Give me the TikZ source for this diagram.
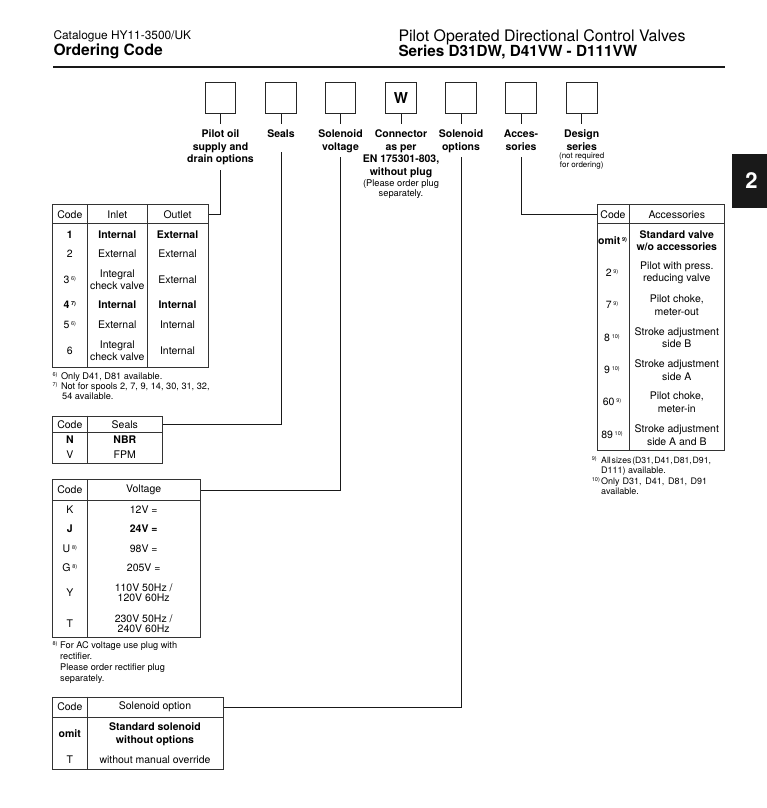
\documentclass[tikz,border=0pt]{standalone}
\usepackage{fontspec}
\setmainfont{TeX Gyre Heros}
\newcommand\fmk[1]{\raisebox{2.8pt}{\fontsize{5.5}{6}\selectfont #1)}}
\newcommand\ncell[2]{#1\,\fmk{#2}}
\begin{document}
\begin{tikzpicture}[x=1pt,y=-1pt,
  codebox/.style={draw=black!85, line width=1pt, minimum width=30.7pt, minimum height=31pt, inner sep=0pt},
  lab/.style={font=\fontsize{10.5}{12.5}\selectfont\bfseries, align=center, inner sep=0pt, outer xsep=0pt, outer ysep=6pt, anchor=north},
  smalltxt/.style={font=\fontsize{9.3}{10.3}\selectfont, align=center, inner sep=0pt},
  tinytxt/.style={font=\fontsize{8}{9}\selectfont, align=center, inner sep=0pt},
  tbl/.style={draw=black!80, line width=1.1pt, inner sep=0pt, anchor=north west},
  tline/.style={draw=black!80, line width=1.1pt},
  conn/.style={draw=black!90, line width=0.9pt},
  cell/.style={font=\fontsize{10.5}{12}\selectfont, align=center, inner sep=0pt},
  tcell/.style={font=\fontsize{10.5}{10.3}\selectfont, align=center, inner sep=0pt},
  acell/.style={font=\fontsize{10.5}{12.7}\selectfont, align=center, inner sep=0pt},
  note/.style={font=\fontsize{9.2}{11}\selectfont, inner sep=0pt, anchor=base west},
  hd/.style={inner sep=0pt, anchor=base west}]
\fill[white] (0,0) rectangle (767,808);
\useasboundingbox (0,0) rectangle (767,808);

% ---------- header ----------
\node[hd, font=\fontsize{11.9}{13}\selectfont] (cat) at (53.3,39.3) {Catalogue HY11-3500/UK};
\node[hd, font=\fontsize{15.6}{17}\selectfont\bfseries] (oc) at (53.3,55.7) {Ordering Code};
\node[hd, font=\fontsize{15.9}{17}\selectfont] (ptitle) at (398.3,41.7) {Pilot Operated Directional Control Valves};
\node[hd, font=\fontsize{15.3}{17}\selectfont\bfseries] (stitle) at (398.3,56.7) {Series D31DW, D41VW - D111VW};
\draw[line width=2.2pt, black!90] (53,67) -- (725,67);

% ---------- tab ----------
\node[fill=black!90, minimum width=35pt, minimum height=54pt, inner sep=0pt, anchor=north west] (tab) at (732,154) {};
\node[text=white, font=\fontsize{22}{24}\selectfont\bfseries, inner sep=0pt] (tabn) at (751.5,181) {2};

% ---------- code boxes ----------
\node[codebox] (b1) at (220.5,98) {};
\node[codebox] (b2) at (281,98) {};
\node[codebox] (b3) at (340.5,98) {};
\node[codebox, font=\fontsize{15}{16}\selectfont\bfseries] (b4) at (401,98) {W};
\node[codebox] (b5) at (461,98) {};
\node[codebox] (b6) at (521,98) {};
\node[codebox] (b7) at (581.7,98) {};

% ---------- labels ----------
\node[lab] (l1) at (220.5,124) {Pilot oil\\supply and\\drain options};
\node[lab] (l2) at (281,124) {Seals};
\node[lab] (l3) at (340.5,124) {Solenoid\\voltage};
\node[lab] (l4) at (401,124) {Connector\\as per\\EN 175301-803,\\without plug};
\node[smalltxt] (l4b) at (401,189.2) {(Please order plug\\separately.};
\node[lab] (l5) at (461,124) {Solenoid\\options};
\node[lab] (l6) at (521,124) {Acces-\\sories};
\node[lab] (l7) at (581.7,124) {Design\\series};
\node[tinytxt] (l7b) at (581.7,161.2) {(not required\\for ordering)};

\foreach \i in {1,...,7} \draw[conn] (b\i.south) -- (l\i.north);

\coordinate (s1) at (220.5,169.5);
\coordinate (s2) at (281,152);
\coordinate (s3) at (340.5,157);
\coordinate (s5) at (461,157);
\coordinate (s6) at (521,157);

% ---------- table 1: pilot oil ----------
\node[tbl, minimum width=155.4pt, minimum height=19pt] (t1h) at (52.3,204.3) {};
\node[tbl, minimum width=155.4pt, minimum height=143.4pt] (t1b) at (52.3,223.3) {};
\draw[tline] (87.3,204.3) -- (87.3,366.7);
\draw[tline] (147.3,204.3) -- (147.3,366.7);
\node[cell] (t1hc) at (69.8,214.3) {Code};
\node[cell] (t1hi) at (117.3,214.3) {Inlet};
\node[cell] (t1ho) at (177.5,214.3) {Outlet};
\node[cell] (t1c1) at (69.8,234.3) {\bfseries 1};
\node[cell] (t1i1) at (117.3,234.3) {\bfseries Internal};
\node[cell] (t1o1) at (177.5,234.3) {\bfseries External};
\node[cell] (t1c2) at (69.8,253.3) {2};
\node[cell] (t1i2) at (117.3,253.3) {External};
\node[cell] (t1o2) at (177.5,253.3) {External};
\node[cell] (t1c3) at (69.8,279.5) {\ncell{3}{6}};
\node[cell] (t1i3) at (117.3,279.8) {Integral\\check valve};
\node[cell] (t1o3) at (177.5,279.5) {External};
\node[cell] (t1c4) at (69.8,305) {\bfseries\ncell{4}{7}};
\node[cell] (t1i4) at (117.3,305) {\bfseries Internal};
\node[cell] (t1o4) at (177.5,305) {\bfseries Internal};
\node[cell] (t1c5) at (69.8,325) {\ncell{5}{6}};
\node[cell] (t1i5) at (117.3,325) {External};
\node[cell] (t1o5) at (177.5,325) {Internal};
\node[cell] (t1c6) at (69.8,350.7) {6};
\node[cell] (t1i6) at (117.3,350.7) {Integral\\check valve};
\node[cell] (t1o6) at (177.5,350.7) {Internal};
\node[note] (n6) at (52.3,379.3) {\makebox[8.5pt][l]{\fmk{6}}Only D41, D81 available.};
\node[note] (n7a) at (52.3,389.5) {\makebox[8.5pt][l]{\fmk{7}}Not for spools 2, 7, 9, 14, 30, 31, 32,};
\node[note] (n7b) at (62,399.7) {54 available.};
\draw[conn] (t1h.east) -| (s1);

% ---------- table 2: seals ----------
\node[tbl, minimum width=110pt, minimum height=16pt] (t2h) at (52.3,415.7) {};
\node[tbl, minimum width=110pt, minimum height=31pt] (t2b) at (52.3,431.7) {};
\draw[tline] (87.3,415.7) -- (87.3,462.7);
\node[cell] (t2hc) at (69.8,424.3) {Code};
\node[cell] (t2hs) at (124.8,424.3) {Seals};
\node[cell] (t2c1) at (69.8,439.5) {\bfseries N};
\node[cell] (t2s1) at (124.8,439.5) {\bfseries NBR};
\node[cell] (t2c2) at (69.8,454.5) {V};
\node[cell] (t2s2) at (124.8,454.5) {FPM};
\draw[conn] (t2h.east) -| (s2);

% ---------- table 3: voltage ----------
\node[tbl, minimum width=147.7pt, minimum height=21pt] (t3h) at (52.3,479) {};
\node[tbl, minimum width=147.7pt, minimum height=137.3pt] (t3b) at (52.3,500) {};
\draw[tline] (87.3,479) -- (87.3,637.3);
\node[cell] (t3hc) at (69.8,489.5) {Code};
\node[cell] (t3hv) at (143.7,489.5) {Voltage};
\node[cell] (t3c1) at (69.8,509.3) {K};
\node[cell] (t3v1) at (143.7,509.3) {12V =};
\node[cell] (t3c2) at (69.8,529) {\bfseries J};
\node[cell] (t3v2) at (143.7,529) {\bfseries 24V =};
\node[cell] (t3c3) at (69.8,548.7) {\ncell{U}{8}};
\node[cell] (t3v3) at (143.7,548.7) {98V =};
\node[cell] (t3c4) at (69.8,567.7) {\ncell{G}{8}};
\node[cell] (t3v4) at (143.7,567.7) {205V =};
\node[cell] (t3c5) at (69.8,592.7) {Y};
\node[tcell] (t3v5) at (143.7,592.7) {110V 50Hz /\\120V 60Hz};
\node[cell] (t3c6) at (69.8,623.5) {T};
\node[tcell] (t3v6) at (143.7,623.5) {230V 50Hz /\\240V 60Hz};
\node[note] (n8a) at (52.3,648.5) {\makebox[7.7pt][l]{\fmk{8}}For AC voltage use plug with};
\node[note] (n8b) at (60,659.2) {rectifier.};
\node[note] (n8c) at (60,670.5) {Please order rectifier plug};
\node[note] (n8d) at (60,681.5) {separately.};
\draw[conn] (t3h.east) -| (s3);

% ---------- table 4: solenoid option ----------
\node[tbl, minimum width=170.4pt, minimum height=20pt] (t4h) at (52.3,696.7) {};
\node[tbl, minimum width=170.4pt, minimum height=52.3pt] (t4b) at (52.3,716.7) {};
\draw[tline] (87.3,696.7) -- (87.3,769);
\node[cell] (t4hc) at (69.8,706.7) {Code};
\node[cell] (t4ho) at (155,706.7) {Solenoid option};
\node[cell] (t4c1) at (69.8,734) {\bfseries omit};
\node[acell, font=\fontsize{10.5}{13.3}\selectfont\bfseries] (t4o1) at (155,734.3) {Standard solenoid\\without options};
\node[cell] (t4c2) at (69.8,760) {T};
\node[cell] (t4o2) at (155,760) {without manual override};
\draw[conn] (t4h.east) -| (s5);

% ---------- table 5: accessories ----------
\node[tbl, minimum width=127.6pt, minimum height=19pt] (t5h) at (596.7,204.3) {};
\node[tbl, minimum width=127.6pt, minimum height=226.7pt] (t5b) at (596.7,223.3) {};
\draw[tline] (629.3,204.3) -- (629.3,450);
\node[cell] (t5hc) at (613,214.3) {Code};
\node[cell] (t5ha) at (676.8,214.3) {Accessories};
\node[cell] (t5c1) at (612.5,240.5) {\bfseries\ncell{omit}{9}};
\node[acell, font=\fontsize{10.5}{12.5}\selectfont\bfseries] (t5a1) at (676.8,240.5) {Standard valve\\w/o accessories};
\node[cell] (t5c2) at (612,272.7) {\ncell{2}{9}};
\node[acell] (t5a2) at (676.8,272.7) {Pilot with press.\\reducing valve};
\node[cell] (t5c3) at (612,305) {\ncell{7}{9}};
\node[acell] (t5a3) at (676.8,305) {Pilot choke,\\meter-out};
\node[cell] (t5c4) at (612,337.8) {\ncell{8}{10}};
\node[acell] (t5a4) at (676.8,337.8) {Stroke adjustment\\side B};
\node[cell] (t5c5) at (612,370) {\ncell{9}{10}};
\node[acell] (t5a5) at (676.8,370) {Stroke adjustment\\side A};
\node[cell] (t5c6) at (612,402) {\ncell{60}{9}};
\node[acell] (t5a6) at (676.8,402) {Pilot choke,\\meter-in};
\node[cell] (t5c7) at (612,435) {\ncell{89}{10}};
\node[acell] (t5a7) at (676.8,435) {Stroke adjustment\\side A and B};
\node[note, font=\fontsize{8.7}{11}\selectfont] (n9a) at (591.7,463) {\makebox[9.3pt][l]{\fontsize{9}{11}\selectfont\fmk{9}}\hbox to 106pt{\spaceskip=0.8pt plus 1fil\relax All sizes (D31, D41, D81, D91,}};
\node[note, font=\fontsize{9}{11}\selectfont] (n9b) at (601,473.3) {D111) available.};
\node[note, font=\fontsize{9}{11}\selectfont] (n10a) at (591.7,484) {\makebox[9.3pt][l]{\fmk{10}}\hbox to 106pt{\spaceskip=0.3pt plus 1fil\relax Only D31, D41, D81, D91}};
\node[note, font=\fontsize{9}{11}\selectfont] (n10b) at (601,494.7) {available.};
\draw[conn] (t5h.west) -| (s6);
\end{tikzpicture}
\end{document}
